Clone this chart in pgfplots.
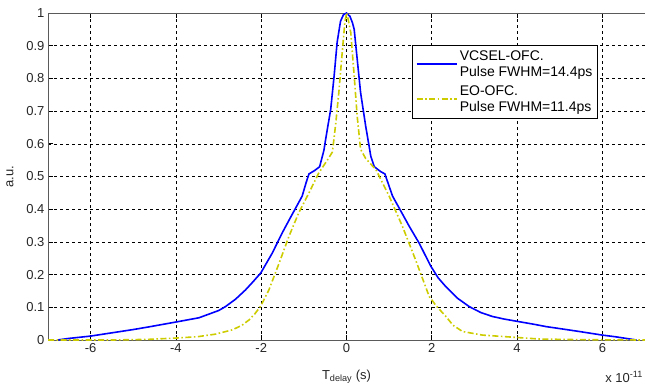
\documentclass[border=0pt]{standalone}
\usepackage{fontspec}
\setmainfont{Liberation Sans}
\usepackage{pgfplots}
\pgfplotsset{compat=1.18}
\usetikzlibrary{calc}
\definecolor{vblue}{RGB}{0,0,255}
\definecolor{eoy}{RGB}{204,204,0}
\definecolor{axgray}{RGB}{90,90,90}
\begin{document}
\begin{tikzpicture}
\begin{axis}[
  scale only axis, width=597pt, height=327pt,
  xmin=-7, xmax=7, ymin=0, ymax=1,
  separate axis lines, axis x line*=box, axis y line*=left,
  axis line style={axgray, line width=0.9pt},
  xtick={-6,-4,-2,0,2,4,6},
  xticklabels={-6,-4,-2,0,2,4,6},
  ytick={0,0.1,0.2,0.3,0.4,0.5,0.6,0.7,0.8,0.9,1},
  yticklabels={0,0.1,0.2,0.3,0.4,0.5,0.6,0.7,0.8,0.9,1},
  xtick pos=both, ytick pos=left,
  tick align=inside, major tick length=5pt,
  tick style={black, line width=0.8pt},
  ticklabel style={font=\fontsize{13}{15}\selectfont, text=black!85},
  grid=major,
  major grid style={black, dash pattern=on 3pt off 3pt, line width=0.6pt},
  xlabel={T\textsubscript{delay} (s)},
  ylabel={a.u.},
  label style={font=\fontsize{13}{15}\selectfont, text=black!85},
  xlabel style={yshift=-10pt},
  ylabel style={yshift=6pt},
  legend style={at={(rel axis cs:0.921,0.902)}, anchor=north east,
    draw=black, line width=0.8pt, font=\fontsize{14}{16.5}\selectfont,
    cells={align=left, anchor=west}, inner xsep=3pt, inner ysep=3pt,
    row sep=3pt},
  legend image code/.code={\draw[#1, line width=2.2pt] (0pt,0pt) -- (40pt,0pt);},
]
\coordinate (SW) at (rel axis cs:0,0);
\coordinate (NE) at (rel axis cs:1,1);
\addplot[vblue, line width=1.6pt] coordinates {
(-6.78,0) (-6.5,0.005) (-6.0,0.012) (-5.5,0.022) (-5.0,0.032) (-4.64,0.040)
(-4.0,0.055) (-3.46,0.068) (-3.0,0.09) (-2.84,0.102) (-2.6,0.125) (-2.37,0.153)
(-2.2,0.177) (-2.01,0.205) (-1.74,0.266) (-1.51,0.327) (-1.3,0.378) (-1.19,0.404)
(-1.04,0.44) (-0.95,0.48) (-0.88,0.508) (-0.75,0.518) (-0.63,0.53) (-0.53,0.58)
(-0.49,0.613) (-0.37,0.706) (-0.29,0.808) (-0.22,0.91) (-0.14,0.975) (-0.07,0.995)
(0,1.0) (0.08,0.99) (0.14,0.97) (0.18,0.95) (0.25,0.86) (0.33,0.757) (0.45,0.654)
(0.57,0.562) (0.65,0.53) (0.8,0.515) (0.9,0.508) (1.0,0.47) (1.08,0.44) (1.25,0.40)
(1.47,0.348) (1.70,0.297) (1.98,0.225) (2.15,0.19) (2.33,0.163) (2.6,0.128)
(2.88,0.102) (3.15,0.084) (3.42,0.072) (3.7,0.064) (4.05,0.056) (4.4,0.048)
(4.68,0.041) (5.1,0.033) (5.46,0.026) (6.0,0.015) (6.3,0.01) (6.55,0.005) (6.8,0)
};
\addlegendentry{VCSEL-OFC.\\Pulse FWHM=14.4ps}
\addplot[eoy, line width=1.6pt, dash pattern=on 6pt off 2.5pt on 1.5pt off 2.5pt] coordinates {
(-7,0) (-5.5,0) (-4.64,0.002) (-4.0,0.006) (-3.5,0.01) (-3.07,0.018) (-2.68,0.031)
(-2.45,0.045) (-2.29,0.061) (-2.15,0.08) (-2.01,0.104) (-1.82,0.153) (-1.58,0.235)
(-1.35,0.317) (-1.12,0.389) (-0.88,0.45) (-0.65,0.511) (-0.45,0.55) (-0.33,0.575)
(-0.25,0.665) (-0.18,0.757) (-0.10,0.88) (-0.04,0.97) (0,1.0) (0.04,0.98)
(0.10,0.94) (0.18,0.808) (0.25,0.685) (0.33,0.583) (0.45,0.555) (0.69,0.521)
(1.0,0.44) (1.31,0.348) (1.62,0.245) (1.94,0.133) (2.1,0.105) (2.33,0.072)
(2.5,0.045) (2.72,0.026) (3.19,0.015) (3.97,0.008) (4.52,0.003) (5.5,0.001) (7,0)
};
\addlegendentry{EO-OFC.\\Pulse FWHM=11.4ps}
\end{axis}
\node[anchor=base east, font=\fontsize{13}{15}\selectfont, text=black!85, inner sep=1pt]
  at ($(SW)+(596pt,-42pt)$) {x 10\textsuperscript{-11}};
\pgfresetboundingbox
\path ($(SW)+(-48pt,-46pt)$) rectangle ($(NE)+(0pt,13pt)$);
\end{tikzpicture}
\end{document}
